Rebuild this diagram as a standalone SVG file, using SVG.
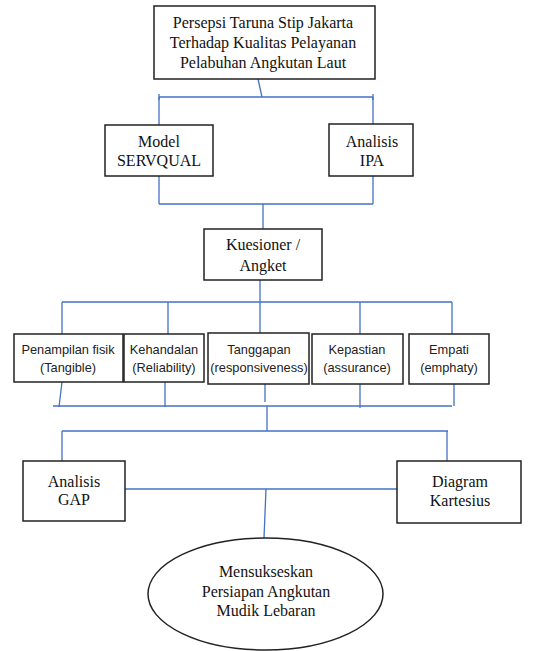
<svg xmlns="http://www.w3.org/2000/svg" width="535" height="651" viewBox="0 0 535 651">
<style>
.box{fill:#fff;stroke:#222;stroke-width:1.5}
.ser{font-family:"Liberation Serif","Times New Roman",serif;font-size:16px;fill:#111;text-anchor:middle}
.san{font-family:"Liberation Sans",Arial,sans-serif;font-size:12.8px;fill:#222;text-anchor:middle}
.con{fill:none;stroke:#4472C4;stroke-width:1.3}
</style>
<rect width="535" height="651" fill="#fff"/>
<g id="connectors" class="con">
<path d="M258 79 L262 97"/>
<path d="M159 97 H373 M159 94 V100 M373 94 V100"/>
<path d="M159 97 V125 M373 97 V124"/>
<path d="M159 176 V204 M373 176 V204 M159 204 H373"/>
<path d="M263 204 V229"/>
<path d="M260 280 V302 M62 302 H452"/>
<path d="M62 302 V334 M168 302 V334 M260 302 V333 M360 302 V334 M452 302 V334"/>
<path d="M62 382 L59 407 M165 382 V407 M265 384 V402 M360 384 V408 M454 384 V406 M53 406 H452"/>
<path d="M267 406 V431 M62 431 H448 M62 431 V461 M447 431 V461"/>
<path d="M125 489 H402"/>
<path d="M266 489 L264 538"/>
</g>
<g id="n-top">
<rect class="box" x="154" y="6" width="221" height="73"/>
<text class="ser" x="263" y="28">Persepsi Taruna Stip Jakarta</text>
<text class="ser" x="263" y="48">Terhadap Kualitas Pelayanan</text>
<text class="ser" x="263" y="68">Pelabuhan Angkutan Laut</text>
</g>
<g id="n-servqual">
<rect class="box" x="105" y="125" width="108" height="51"/>
<text class="ser" x="159" y="147">Model</text>
<text class="ser" x="159" y="166">SERVQUAL</text>
</g>
<g id="n-ipa">
<rect class="box" x="329" y="124" width="84" height="52"/>
<text class="ser" x="372" y="147">Analisis</text>
<text class="ser" x="372" y="166">IPA</text>
</g>
<g id="n-kuesioner">
<rect class="box" x="204" y="229" width="118" height="51"/>
<text class="ser" x="263" y="250">Kuesioner /</text>
<text class="ser" x="263" y="271">Angket</text>
</g>
<g id="n-tangible">
<rect class="box" x="14" y="334" width="109" height="48"/>
<text class="san" x="68" y="354">Penampilan fisik</text>
<text class="san" x="68" y="372">(Tangible)</text>
</g>
<g id="n-reliability">
<rect class="box" x="124" y="334" width="80" height="48"/>
<text class="san" x="164" y="354">Kehandalan</text>
<text class="san" x="164" y="372">(Reliability)</text>
</g>
<g id="n-responsiveness">
<rect class="box" x="208" y="333" width="101" height="51"/>
<text class="san" x="259" y="354">Tanggapan</text>
<text class="san" x="259" y="372">(responsiveness)</text>
</g>
<g id="n-assurance">
<rect class="box" x="312" y="334" width="91" height="50"/>
<text class="san" x="357" y="354">Kepastian</text>
<text class="san" x="357" y="372">(assurance)</text>
</g>
<g id="n-emphaty">
<rect class="box" x="409" y="334" width="80" height="50"/>
<text class="san" x="449" y="354">Empati</text>
<text class="san" x="449" y="372">(emphaty)</text>
</g>
<g id="n-gap">
<rect class="box" x="23" y="461" width="102" height="60"/>
<text class="ser" x="74" y="487">Analisis</text>
<text class="ser" x="74" y="505">GAP</text>
</g>
<g id="n-kartesius">
<rect class="box" x="397" y="461" width="124" height="62"/>
<text class="ser" x="460" y="487">Diagram</text>
<text class="ser" x="460" y="506">Kartesius</text>
</g>
<g id="n-mudik">
<ellipse class="box" cx="265.5" cy="594" rx="117.5" ry="56"/>
<text class="ser" x="266" y="577">Mensukseskan</text>
<text class="ser" x="266" y="597">Persiapan Angkutan</text>
<text class="ser" x="266" y="616">Mudik Lebaran</text>
</g>
</svg>
